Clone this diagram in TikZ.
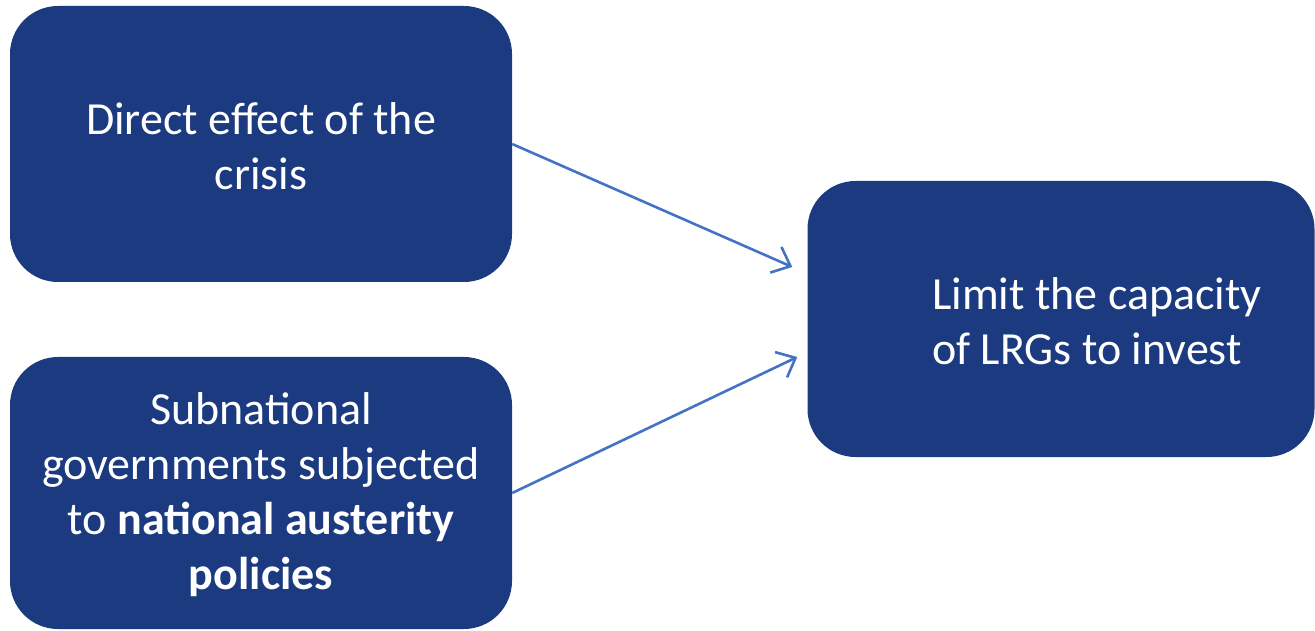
\documentclass[tikz,border=0pt]{standalone}
\usepackage{fontspec}
\setmainfont{Carlito}
\usetikzlibrary{arrows.meta}
\definecolor{boxblue}{HTML}{1B3A80}
\definecolor{arrowblue}{HTML}{4472C4}
\begin{document}
\begin{tikzpicture}[x=1pt,y=1pt,
  box/.style={draw=none, fill=boxblue, rounded corners=48pt, text=white,
    font=\fontsize{46}{55}\selectfont, align=center, inner sep=0pt},
  conn/.style={draw=arrowblue, line width=2.6pt,
    -{Straight Barb[length=16pt,width=28pt,line width=2.6pt]}}]
\useasboundingbox (0,0) rectangle (1315,630);
\node[box, minimum width=502pt, minimum height=276pt] (b1) at (261,486) {};
\node[box, minimum width=502pt, minimum height=272pt] (b2) at (261,137) {};
\node[box, minimum width=507pt, minimum height=276pt] (b3) at (1061,311) {};
\node[box, fill=none, anchor=center] (t1) at (261,484) {Direct effect of the\\crisis};
\node[box, fill=none, anchor=center] (t2) at (261,135) {Subnational\\governments subjected\\to \textbf{national austerity}\\\textbf{policies}};
\node[box, fill=none, align=left, anchor=west] (t3) at (932,309) {Limit the capacity\\of LRGs to invest};
\coordinate (e1) at ([xshift=-15pt,yshift=52pt]b3.west);
\coordinate (e2) at ([xshift=-10pt,yshift=-38pt]b3.west);
\draw[conn] (b1.east) -- (e1);
\draw[conn] (b2.east) -- (e2);
\end{tikzpicture}
\end{document}
